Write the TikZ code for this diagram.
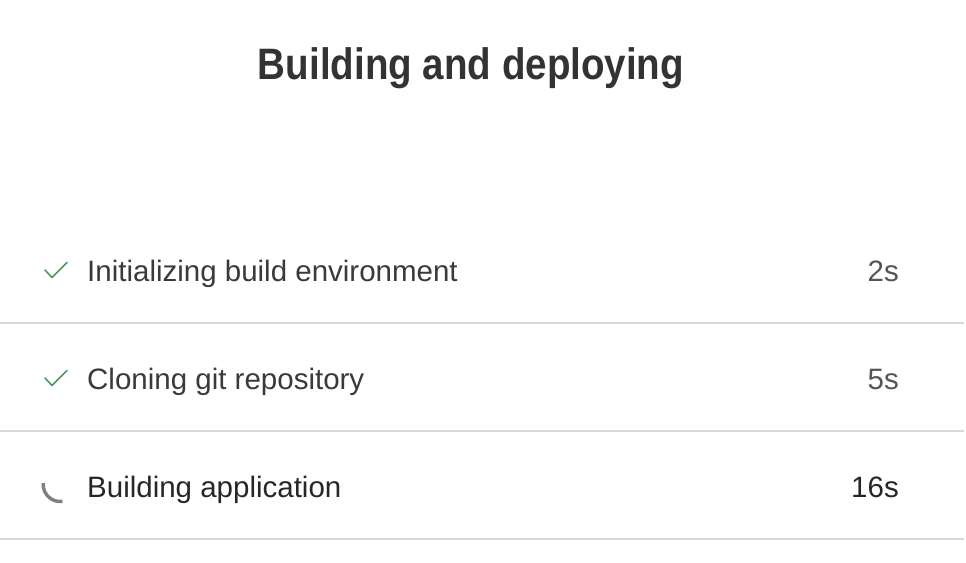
\documentclass[tikz,border=0pt]{standalone}
\usepackage{fontspec}
\setmainfont{Liberation Sans}
\usetikzlibrary{positioning}
\definecolor{titlegray}{HTML}{333333}
\definecolor{stepgray}{HTML}{3A3A3A}
\definecolor{timegray}{HTML}{555555}
\definecolor{rulegray}{HTML}{D9D9D9}
\definecolor{okgreen}{HTML}{4C9A5A}
\definecolor{spingray}{HTML}{808080}

\begin{document}
\begin{tikzpicture}[x=1pt, y=-1pt, line join=bevel,
    steptext/.style={anchor=base west, text=stepgray, inner sep=0pt, font=\fontsize{29.5}{34}\selectfont},
    timetext/.style={anchor=base east, text=timegray, inner sep=0pt, font=\fontsize{29.5}{34}\selectfont},
    sep/.style={draw=rulegray, line width=2pt},
    check/.style={draw=okgreen, line width=1.6pt, line cap=round, line join=round},
    spin/.style={draw=spingray, line width=3.4pt}]
	     %
             \useasboundingbox (0,0) rectangle (966,562);
             \node[anchor=base, inner sep=0pt, text=titlegray, font=\fontsize{44}{50}\selectfont\bfseries] (title) at (471,79) {\scalebox{0.876}[1]{Building and deploying}};
             %
             \node[steptext] (init) at (87,281) {Initializing build environment};
             \node[steptext] (clone) at (87,389) {Cloning git repository};
             \node[steptext, text=black!85] (build) at (87,497) {Building application};
             \node[timetext] (t1) at (899,281) {2s};
             \node[timetext] (t2) at (899,389) {5s};
             \node[timetext, text=black!85] (t3) at (899,497) {16s};
             %
             \coordinate (r1l) at (0,323);   \coordinate (r1r) at (964,323);
             \coordinate (r2l) at (0,431);   \coordinate (r2r) at (964,431);
             \coordinate (r3l) at (0,539);   \coordinate (r3r) at (964,539);
             \path[sep] (r1l) -- (r1r);
             \path[sep] (r2l) -- (r2r);
             \path[sep] (r3l) -- (r3r);
             %
             \path[check] (45,270) -- (52,277.5) -- (67,262.5);
             \path[check] (45,378) -- (52,385.5) -- (67,370.5);
             \path[spin] (43.2,483) arc (185:82:17);
          \end{tikzpicture}
\end{document}
